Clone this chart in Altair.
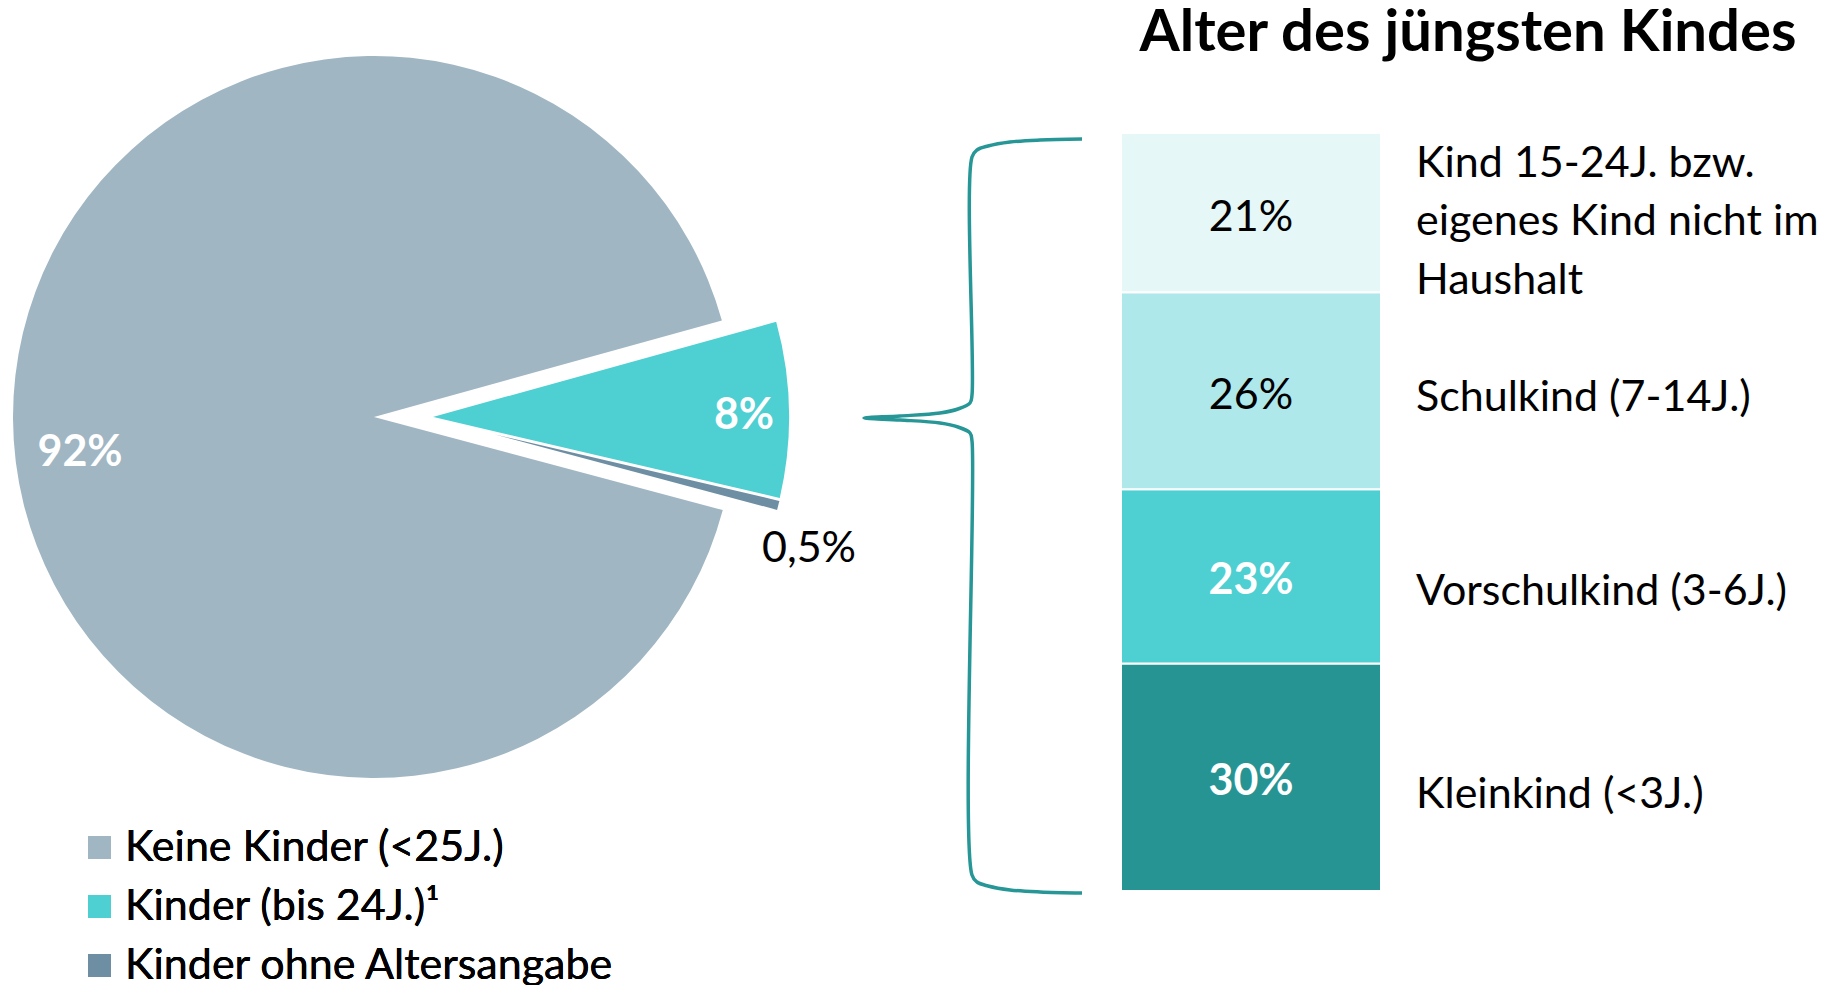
import math
import altair as alt
import pandas as pd

# ---------------- data ----------------
pie_categories = ["Keine Kinder (<25J.)", "Kinder (bis 24J.)¹", "Kinder ohne Altersangabe"]
pie_values = [92, 8, 0.5]
pie_labels = ["92%", "8%", "0,5%"]
pie_order = [3, 1, 2]          # drawing order around the circle

bar_categories = ["Kleinkind (<3J.)", "Vorschulkind (3-6J.)", "Schulkind (7-14J.)",
                  "Kind 15-24J. bzw.\neigenes Kind nicht im\nHaushalt"]
bar_values = [30, 23, 26, 21]
bar_labels = ["30%", "23%", "26%", "21%"]
bar_order = [1, 2, 3, 4]       # stacking order from bottom

title_text = "Alter des jüngsten Kindes"

# ---------------- styles ----------------
pie_colors = ["#A0B6C3", "#4ECFD1", "#6E8FA3"]
bar_colors = ["#279494", "#4ECFD1", "#AFE8EA", "#E5F7F7"]
bar_label_colors = ["white", "white", "black", "black"]
bar_label_weights = ["bold", "bold", "normal", "normal"]
cat_label_dy = [18, 16, 7, -49]
brace_color = "#279696"
FONT = "Lato"
FS = 43

W, H = 1822, 977
M = 8  # page margin


def px(v):
    return v - M


# pie geometry
CX, CY, R = px(374), px(417), 361
start_angle = math.radians(74.5)
explode = {"Keine Kinder (<25J.)": (0, 0),
           "Kinder (bis 24J.)¹": (55, 0),
           "Kinder ohne Altersangabe": (55, 1)}
pie_label_pos = {"Keine Kinder (<25J.)": (px(80), px(453), "white", "bold"),
                 "Kinder (bis 24J.)¹": (px(744), px(416), "white", "bold"),
                 "Kinder ohne Altersangabe": (px(809), px(549), "black", "normal")}

# bar geometry
BAR_X0, BAR_X1 = px(1121), px(1381)
BAR_TOP, BAR_BOTTOM = px(133), px(891)

# brace shape (page coords)
brace_pts = [(1082, 139), (1040, 140), (1010, 142), (988, 146), (977, 150), (972, 157),
             (972, 395), (970, 403), (958, 409), (940, 413), (900, 416), (864, 418),
             (900, 420), (940, 423), (958, 427), (970, 433), (972, 441),
             (972, 875), (977, 882), (988, 886), (1010, 890), (1040, 892), (1082, 893)]

# ---------------- tables ----------------
pie_df = pd.DataFrame({"cat": pie_categories, "value": pie_values,
                       "label": pie_labels, "order": pie_order})
bar_df = pd.DataFrame({"cat": bar_categories, "value": bar_values,
                       "label": bar_labels, "order": bar_order})
brace_df = pd.DataFrame({"i": range(len(brace_pts)),
                         "bx": [px(p[0]) for p in brace_pts],
                         "by": [px(p[1]) for p in brace_pts]})

total = sum(pie_values)
theta_scale = alt.Scale(domain=[0, total], range=[start_angle, start_angle + 2 * math.pi])
pie_color_scale = alt.Scale(domain=pie_categories, range=pie_colors)

pie_base = (alt.Chart(pie_df)
            .transform_window(end="sum(value)", sort=[alt.SortField("order")], frame=[None, 0])
            .transform_calculate(start="datum.end - datum.value"))

layers = []
for i, cat in enumerate(pie_categories):
    dx, dy = explode[cat]
    layers.append(
        pie_base.transform_filter(alt.datum.cat == cat)
        .mark_arc(outerRadius=R, xOffset=dx, yOffset=dy,
                  stroke="white", strokeWidth=0 if dx == 0 else 2)
        .encode(theta=alt.Theta("start:Q", scale=theta_scale, stack=None),
                theta2="end:Q",
                color=alt.Color("cat:N", scale=pie_color_scale,
                                legend=alt.Legend(title=None, orient="none",
                                                  legendX=px(78), legendY=px(826),
                                                  symbolType="square", symbolSize=529,
                                                  symbolStrokeWidth=0, labelFont=FONT,
                                                  labelFontSize=FS, labelColor="black",
                                                  labelLimit=0, rowPadding=15,
                                                  labelOffset=4, padding=0)),
                x=alt.value(CX), y=alt.value(CY))
    )

for cat, lab in zip(pie_categories, pie_labels):
    lx, ly, col, wt = pie_label_pos[cat]
    layers.append(
        alt.Chart(pie_df).transform_filter(alt.datum.cat == cat)
        .mark_text(font=FONT, fontSize=FS, fontWeight=wt, color=col,
                   align="center", baseline="middle")
        .encode(text="label:N", x=alt.value(lx), y=alt.value(ly))
    )

# stacked bar
bar_y_scale = alt.Scale(domain=[0, sum(bar_values)], range=[BAR_BOTTOM, BAR_TOP], nice=False, zero=True)
bar_base = (alt.Chart(bar_df)
            .transform_window(cum="sum(value)", sort=[alt.SortField("order")], frame=[None, 0])
            .transform_calculate(start="datum.cum - datum.value",
                                 mid="datum.cum - datum.value / 2"))

layers.append(
    bar_base.mark_bar(stroke="white", strokeWidth=2)
    .encode(y=alt.Y("start:Q", scale=bar_y_scale, axis=None), y2="cum:Q",
            x=alt.value(BAR_X0), x2=alt.value(BAR_X1),
            fill=alt.Fill("cat:N", scale=alt.Scale(domain=bar_categories, range=bar_colors),
                          legend=None))
)

for cat, col, wt, cdy in zip(bar_categories, bar_label_colors, bar_label_weights, cat_label_dy):
    sub = bar_base.transform_filter(alt.datum.cat == cat)
    layers.append(
        sub.mark_text(font=FONT, fontSize=FS, fontWeight=wt, color=col,
                      align="center", baseline="middle", dy=5)
        .encode(text="label:N", y=alt.Y("mid:Q", scale=bar_y_scale, axis=None),
                x=alt.value((BAR_X0 + BAR_X1) / 2))
    )
    layers.append(
        sub.mark_text(font=FONT, fontSize=FS, color="black", align="left",
                      baseline="middle", lineBreak="\n", lineHeight=58.5, dy=cdy)
        .encode(text="cat:N", y=alt.Y("mid:Q", scale=bar_y_scale, axis=None),
                x=alt.value(px(1416)))
    )

# brace
layers.append(
    alt.Chart(brace_df).mark_line(color=brace_color, strokeWidth=3.5, interpolate="catmull-rom")
    .encode(x=alt.X("bx:Q", scale=alt.Scale(domain=[0, W], range=[0, W], nice=False, zero=False), axis=None),
            y=alt.Y("by:Q", scale=alt.Scale(domain=[0, H], range=[0, H], nice=False, zero=False), axis=None),
            order="i:Q")
)

# title
layers.append(
    alt.Chart(pd.DataFrame({"t": [title_text]}))
    .mark_text(font=FONT, fontSize=58, fontWeight="bold", color="black",
               align="center", baseline="alphabetic")
    .encode(text="t:N", x=alt.value(px(1468)), y=alt.value(px(51)))
)

chart = (alt.layer(*layers)
         .resolve_scale(x="independent", y="independent", color="independent",
                        fill="independent", theta="independent")
         .properties(width=W, height=H, padding=0,
                     autosize=alt.AutoSizeParams(type="none", contains="padding"),
                     background="white")
         .configure_view(stroke=None))

chart.save("out.html", embed_options={"renderer": "svg", "actions": False})
